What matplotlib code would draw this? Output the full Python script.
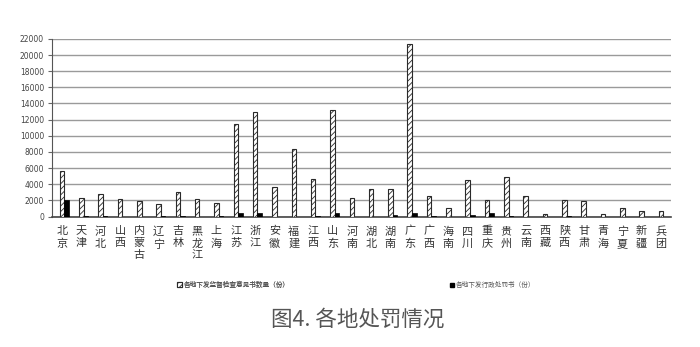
import numpy as np
import matplotlib
matplotlib.use("Agg")
import matplotlib.pyplot as plt
from matplotlib.patches import Patch

plt.rcParams['font.family'] = ['Noto Sans CJK SC', 'DejaVu Sans']
plt.rcParams['hatch.linewidth'] = 0.6

# data
provinces = ['北京', '天津', '河北', '山西', '内蒙古', '辽宁', '吉林', '黑龙江',
             '上海', '江苏', '浙江', '安徽', '福建', '江西', '山东', '河南',
             '湖北', '湖南', '广东', '广西', '海南', '四川', '重庆', '贵州',
             '云南', '西藏', '陕西', '甘肃', '青海', '宁夏', '新疆', '兵团']
inspections = [5600, 2300, 2800, 2200, 1900, 1500, 3000, 2200,
               1700, 11400, 12900, 3600, 8400, 4600, 13200, 2300,
               3400, 3400, 21400, 2600, 1000, 4500, 2100, 4900,
               2600, 300, 2000, 1900, 300, 1000, 700, 700]
penalties = [2000, 100, 100, 0, 0, 100, 100, 0,
             100, 400, 400, 0, 0, 100, 400, 0,
             0, 200, 400, 80, 0, 200, 400, 100,
             0, 0, 100, 0, 0, 0, 0, 0]
label_a = '各地下发监督检查意见书数量（份）'
label_b = '各地下发行政处罚书（份）'
yticks = np.arange(0, 22001, 2000)

fig = plt.figure(figsize=(7.0, 3.47), dpi=100)
ax = fig.add_axes([0.0747, 0.376, 0.8833, 0.512])

x = np.arange(len(provinces))
w = 0.235
ax.bar(x, inspections, width=w, color='white', edgecolor='#2a2a2a',
       hatch='//////', linewidth=0.8, zorder=3)
ax.bar(x + w, penalties, width=w, color='black', edgecolor='black',
       linewidth=0.5, zorder=3)

ax.set_xlim(-0.5, len(provinces) - 0.5)
ax.set_ylim(0, 22000)
ax.set_yticks(yticks)
ax.set_yticklabels([str(v) for v in yticks], fontsize=5.5, color='#444444',
                   family='DejaVu Sans')
ax.yaxis.grid(True, color='#9a9a9a', linewidth=1.0, zorder=0)
ax.set_axisbelow(True)

ax.set_xticks(x)
ax.set_xticklabels(['\n'.join(p) for p in provinces], fontsize=8,
                   color='#333333', linespacing=1.25, va='top')
ax.tick_params(axis='x', length=0, pad=7)
ax.tick_params(axis='y', length=3, width=0.8, color='#666666', pad=3)

for s in ['top', 'right']:
    ax.spines[s].set_visible(False)
ax.spines['left'].set_color('#555555')
ax.spines['bottom'].set_color('#444444')
ax.spines['bottom'].set_linewidth(1.2)

h_a = Patch(facecolor='white', edgecolor='#2a2a2a', hatch='//////', linewidth=0.8)
h_b = Patch(facecolor='black', edgecolor='black')
leg1 = fig.legend(handles=[h_a], labels=[label_a], loc='center left',
                  bbox_to_anchor=(0.253, 0.178), fontsize=4.8, frameon=False,
                  handlelength=0.8, handleheight=0.8, handletextpad=0.2,
                  borderaxespad=0, borderpad=0, labelcolor='#555555')
fig.add_artist(leg1)
fig.legend(handles=[h_b], labels=[label_b], loc='center left',
           bbox_to_anchor=(0.643, 0.178), fontsize=4.8, frameon=False,
           handlelength=0.6, handleheight=0.6, handletextpad=0.2,
           borderaxespad=0, borderpad=0, labelcolor='#555555')

fig.text(0.511, 0.078, '图4. 各地处罚情况', ha='center', va='center',
         fontsize=15.5, color='#555555')

fig.savefig('out.png', dpi=100, facecolor='white')
